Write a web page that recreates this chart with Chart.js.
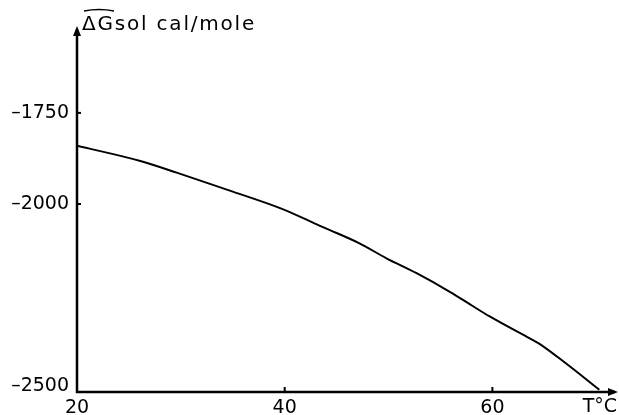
<!DOCTYPE html>
<html>
<head>
<meta charset="utf-8">
<script src="https://cdn.jsdelivr.net/npm/chart.js@4"></script>
<style>
html,body{margin:0;padding:0;background:#fff;}
#wrap{width:619px;height:415px;position:relative;}
</style>
</head>
<body>
<div id="wrap"><canvas id="c" width="619" height="415"></canvas></div>
<script>
// Data
const temperatures = [20, 26.1, 29.6, 35, 39.8, 43.4, 44.3, 47.2, 49.8, 52.7, 55.9, 58.1, 59.7, 63.6, 64.5, 67.1, 70.3];
const deltaG = [-1840, -1882, -1914, -1966, -2014, -2060, -2071, -2108, -2149, -2190, -2241, -2280, -2308, -2369, -2383, -2438, -2510];
const xTickValues = [20, 40, 60];
const yTickValues = [-1750, -2000, -2500];
const yTitle = 'ΔGsol cal/mole';
const xTitle = 'T°C';

const FONT = '"DejaVu Sans", sans-serif';

const decor = {
  id: 'decor',
  afterDraw(chart) {
    const ctx = chart.ctx;
    const a = chart.chartArea;
    const xs = chart.scales.x, ys = chart.scales.y;
    ctx.save();
    ctx.strokeStyle = '#000';
    ctx.fillStyle = '#000';
    ctx.lineWidth = 2.5;
    // axes
    ctx.beginPath();
    ctx.moveTo(a.left, a.top + 2);
    ctx.lineTo(a.left, a.bottom);
    ctx.lineTo(a.right - 2, a.bottom);
    ctx.stroke();
    // arrow heads
    ctx.beginPath();
    ctx.moveTo(a.left, a.top - 2);
    ctx.lineTo(a.left - 4, a.top + 8);
    ctx.lineTo(a.left + 4, a.top + 8);
    ctx.closePath();
    ctx.fill();
    ctx.beginPath();
    ctx.moveTo(a.right + 1, a.bottom);
    ctx.lineTo(a.right - 9, a.bottom - 4);
    ctx.lineTo(a.right - 9, a.bottom + 4);
    ctx.closePath();
    ctx.fill();
    // tick marks
    ctx.lineWidth = 2;
    yTickValues.slice(0, 2).forEach(v => {
      const y = ys.getPixelForValue(v);
      ctx.beginPath(); ctx.moveTo(a.left, y); ctx.lineTo(a.left + 4, y); ctx.stroke();
    });
    xTickValues.slice(1).forEach(v => {
      const x = xs.getPixelForValue(v);
      ctx.beginPath(); ctx.moveTo(x, a.bottom); ctx.lineTo(x, a.bottom - 5); ctx.stroke();
    });
    // titles
    ctx.font = '20px ' + FONT;
    ctx.letterSpacing = '1.8px';
    ctx.textBaseline = 'alphabetic';
    ctx.textAlign = 'left';
    ctx.fillText(yTitle, a.left + 5, 30);
    // overline over ΔG
    ctx.lineWidth = 1.5;
    ctx.beginPath();
    ctx.moveTo(a.left + 7, 11);
    ctx.quadraticCurveTo(a.left + 22, 8, a.left + 37, 11);
    ctx.stroke();
    ctx.letterSpacing = '0px';
    ctx.font = '19px ' + FONT;
    ctx.textAlign = 'right';
    ctx.textBaseline = 'middle';
    ctx.fillText(xTitle, 617, 407);
    ctx.restore();
  }
};

new Chart(document.getElementById('c'), {
  type: 'line',
  data: {
    datasets: [{
      data: temperatures.map((t, i) => ({x: t, y: deltaG[i]})),
      borderColor: '#000',
      borderWidth: 2,
      pointRadius: 0,
      cubicInterpolationMode: 'monotone',
      fill: false
    }]
  },
  options: {
    responsive: false,
    animation: false,
    devicePixelRatio: 1,
    layout: {padding: {top: 28, right: 2, left: 0, bottom: 0}},
    plugins: {legend: {display: false}, tooltip: {enabled: false}},
    scales: {
      x: {
        type: 'linear',
        min: 20, max: 72,
        grid: {display: false, drawTicks: false},
        border: {display: false},
        afterBuildTicks: s => { s.ticks = xTickValues.map(v => ({value: v})); },
        afterFit: s => { s.height = 23; },
        ticks: {color: '#000', font: {size: 19, family: FONT}, padding: 5, maxRotation: 0,
          callback: v => String(v)}
      },
      y: {
        type: 'linear',
        min: -2516, max: -1517,
        grid: {display: false, drawTicks: false},
        border: {display: false},
        afterBuildTicks: s => { s.ticks = yTickValues.map(v => ({value: v})); },
        afterFit: s => { s.width = 77; },
        ticks: {color: '#000', font: {size: 19, family: FONT}, padding: 8,
          callback: v => '–' + Math.abs(v)}
      }
    }
  },
  plugins: [decor]
});
</script>
</body>
</html>
